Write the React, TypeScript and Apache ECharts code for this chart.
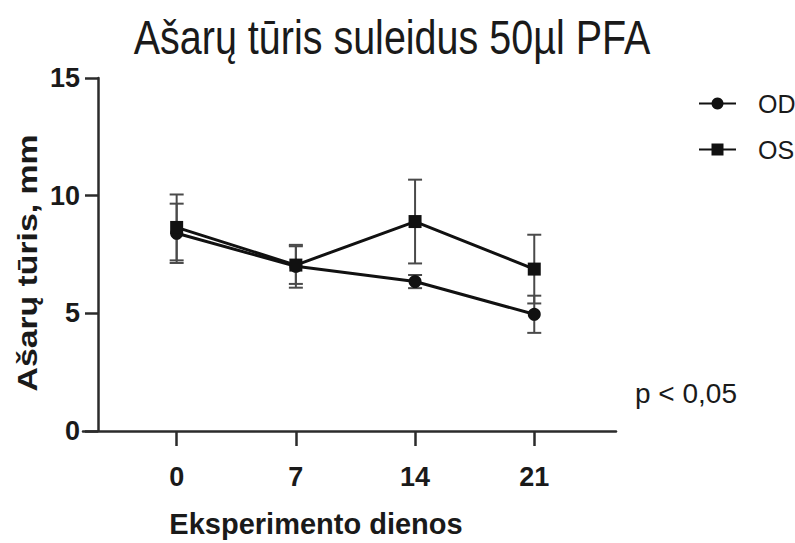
import React, { useEffect, useRef } from "react";
import * as echarts from "echarts";

// Experiment days (x values)
const days = [0, 7, 14, 21];
// Mean tear volume per eye, mm
const odMean = [8.4, 7.0, 6.35, 4.96];
const osMean = [8.65, 7.05, 8.9, 6.88];
// Standard deviations
const odSd = [1.26, 0.91, 0.28, 0.79];
const osSd = [1.4, 0.8, 1.78, 1.46];
// Axis ticks
const xTicks = [0, 7, 14, 21];
const yTicks = [0, 5, 10, 15];

const titleText = "Ašarų tūris suleidus 50µl PFA";
const yTitle = "Ašarų tūris, mm";
const xTitle = "Eksperimento dienos";
const pText = "p < 0,05";

const FONT = "'Liberation Sans', Arial, Helvetica, sans-serif";
const AXIS_COLOR = "#2b2b2b";
const TEXT_COLOR = "#1a1a1a";

function errorRows(means: number[], sds: number[]) {
  return days.map((d, i) => [d, means[i] - sds[i], means[i] + sds[i]]);
}

function errorBarRenderer(params: any, api: any) {
  const x = api.value(0);
  const lo = api.value(1);
  const hi = api.value(2);
  const top = api.coord([x, hi]);
  const bot = api.coord([x, lo]);
  const hw = 7;
  const style = { stroke: "#4a4a4a", lineWidth: 2 };
  return {
    type: "group",
    children: [
      { type: "line", shape: { x1: top[0], y1: top[1], x2: bot[0], y2: bot[1] }, style },
      { type: "line", shape: { x1: top[0] - hw, y1: top[1], x2: top[0] + hw, y2: top[1] }, style },
      { type: "line", shape: { x1: bot[0] - hw, y1: bot[1], x2: bot[0] + hw, y2: bot[1] }, style },
    ],
  };
}

export default function App() {
  const ref = useRef<HTMLDivElement>(null);

  useEffect(() => {
    if (!ref.current) return;
    const chart = echarts.init(ref.current, null, { renderer: "svg" });

    const lineStyle = { color: "#111", width: 3 };

    chart.setOption({
      animation: false,
      backgroundColor: "#ffffff",
      grid: { left: 83, right: 179, top: 78, bottom: 108, containLabel: false },
      legend: {
        data: ["OD", "OS"],
        orient: "vertical",
        left: 693,
        top: 86,
        itemWidth: 37,
        itemHeight: 15,
        itemGap: 21,
        textStyle: {
          fontFamily: FONT,
          fontSize: 25,
          lineHeight: 25,
          color: TEXT_COLOR,
          padding: [0, 0, 0, 17],
        },
      },
      xAxis: {
        type: "value",
        min: -5.5,
        max: 25.8,
        splitLine: { show: false },
        axisLine: { show: true, onZero: false, lineStyle: { color: AXIS_COLOR, width: 2.5 } },
        axisTick: {
          show: true,
          customValues: xTicks,
          length: 15,
          lineStyle: { color: AXIS_COLOR, width: 2.5 },
        },
        axisLabel: {
          customValues: xTicks,
          margin: 32,
          fontFamily: FONT,
          fontWeight: "bold",
          fontSize: 27,
          color: TEXT_COLOR,
        },
        name: xTitle,
        nameLocation: "middle",
        nameGap: 78,
        nameTextStyle: {
          fontFamily: FONT,
          fontWeight: "bold",
          fontSize: 29,
          color: TEXT_COLOR,
          padding: [0, 67, 0, 0],
        },
      },
      yAxis: {
        type: "value",
        min: 0,
        max: 15,
        interval: 5,
        offset: -15,
        splitLine: { show: false },
        axisLine: { show: true, onZero: false, lineStyle: { color: AXIS_COLOR, width: 2.5 } },
        axisTick: { show: true, length: 13, lineStyle: { color: AXIS_COLOR, width: 2.5 } },
        axisLabel: {
          margin: 18,
          fontFamily: FONT,
          fontWeight: "bold",
          fontSize: 27,
          color: TEXT_COLOR,
          formatter: (v: number) => (yTicks.includes(v) ? String(v) : ""),
        },
      },
      graphic: [
        {
          type: "text",
          x: 392,
          y: 38,
          scaleY: 1.2,
          style: {
            text: titleText,
            font: `39.5px ${FONT}`,
            fill: TEXT_COLOR,
            align: "center",
            verticalAlign: "middle",
          },
        },
        {
          type: "text",
          x: 27,
          y: 263,
          rotation: Math.PI / 2,
          scaleX: 1.25,
          style: {
            text: yTitle,
            font: `bold 27px ${FONT}`,
            fill: TEXT_COLOR,
            align: "center",
            verticalAlign: "middle",
          },
        },
        {
          type: "text",
          x: 635,
          y: 393,
          style: {
            text: pText,
            font: `28px ${FONT}`,
            fill: TEXT_COLOR,
            align: "left",
            verticalAlign: "middle",
          },
        },
      ],
      series: [
        {
          name: "OD SD",
          type: "custom",
          renderItem: errorBarRenderer,
          data: errorRows(odMean, odSd),
          z: 1,
          silent: true,
        },
        {
          name: "OS SD",
          type: "custom",
          renderItem: errorBarRenderer,
          data: errorRows(osMean, osSd),
          z: 1,
          silent: true,
        },
        {
          name: "OD",
          type: "line",
          data: days.map((d, i) => [d, odMean[i]]),
          symbol: "circle",
          symbolSize: 13,
          lineStyle,
          itemStyle: { color: "#111" },
          z: 3,
        },
        {
          name: "OS",
          type: "line",
          data: days.map((d, i) => [d, osMean[i]]),
          symbol: "rect",
          symbolSize: 13,
          lineStyle,
          itemStyle: { color: "#111" },
          z: 3,
        },
      ],
    });

    return () => chart.dispose();
  }, []);

  return (
    <div
      ref={ref}
      style={{ position: "fixed", left: 0, top: 0, width: 795, height: 543, background: "#fff" }}
    />
  );
}
